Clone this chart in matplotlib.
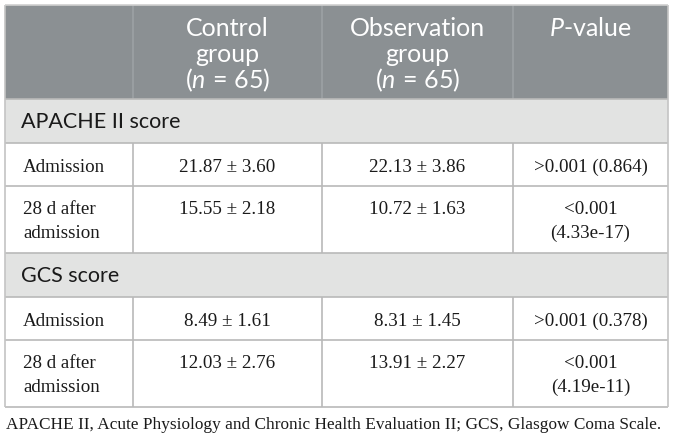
import matplotlib
matplotlib.use("Agg")
import matplotlib.pyplot as plt
from matplotlib.patches import Rectangle

plt.rcParams['mathtext.fontset'] = 'custom'
plt.rcParams['mathtext.it'] = 'Lato:italic'
plt.rcParams['mathtext.rm'] = 'Lato'

# ---- data ----
header_cols = [
    [],
    ["Control", "group", r"$(\mathit{n}\,=\,65)$"],
    ["Observation", "group", r"$(\mathit{n}\,=\,65)$"],
    [r"$\mathit{P}$-value"],
]
sections = ["APACHE II score", "GCS score"]
row_labels = [["Admission"], ["28 d after", "admission"]]
control_vals = [["21.87 ± 3.60", "15.55 ± 2.18"], ["8.49 ± 1.61", "12.03 ± 2.76"]]
observation_vals = [["22.13 ± 3.86", "10.72 ± 1.63"], ["8.31 ± 1.45", "13.91 ± 2.27"]]
p_values = [[[">0.001 (0.864)"], ["<0.001", "(4.33e-17)"]],
            [[">0.001 (0.378)"], ["<0.001", "(4.19e-11)"]]]
caption = "APACHE II, Acute Physiology and Chronic Health Evaluation II; GCS, Glasgow Coma Scale."

# ---- layout (pixels) ----
W, H = 674, 440
col_x = [5, 133, 322, 513, 668]
top, header_h = 5, 94
section_h = 44
row_h = [43, 67]

HEADER_BG = "#8b9093"
SECTION_BG = "#e2e3e2"
GRID = "#b9b9b9"
SANS = "Lato"
SERIF = "Liberation Serif"

fig = plt.figure(figsize=(W / 100, H / 100), dpi=100)
ax = fig.add_axes([0, 0, 1, 1])
ax.set_xlim(0, W)
ax.set_ylim(H, 0)
ax.axis("off")

def hline(y, color=GRID, lw=1.2):
    ax.plot([col_x[0], col_x[-1]], [y, y], color=color, lw=lw, solid_capstyle="butt")

def vline(x, y0, y1, color=GRID, lw=1.2):
    ax.plot([x, x], [y0, y1], color=color, lw=lw, solid_capstyle="butt")

# header
ax.add_patch(Rectangle((col_x[0], top), col_x[-1] - col_x[0], header_h,
                       facecolor=HEADER_BG, edgecolor="none"))
for c in range(1, 4):
    vline(col_x[c], top, top + header_h, color="#9da2a4")
for c, lines in enumerate(header_cols):
    cx = (col_x[c] + col_x[c + 1]) / 2
    for i, t in enumerate(lines):
        ax.text(cx, top + 24 + i * 25.5, t, ha="center", va="center",
                family=SANS, fontsize=18, color="white")

y = top + header_h
table_top = top
for s, sec in enumerate(sections):
    ax.add_patch(Rectangle((col_x[0], y), col_x[-1] - col_x[0], section_h,
                           facecolor=SECTION_BG, edgecolor="none"))
    hline(y)
    ax.text(col_x[0] + 16, y + section_h / 2 + 0.5, sec, ha="left", va="center",
            family=SANS, fontsize=15.5, color="#1a1a1a")
    y += section_h
    for r in range(2):
        hline(y)
        h = row_h[r]
        for c in range(1, 4):
            vline(col_x[c], y, y + h)
        cells = [row_labels[r], [control_vals[s][r]], [observation_vals[s][r]], p_values[s][r]]
        for c, lines in enumerate(cells):
            if c == 0:
                x, ha = col_x[0] + 18, "left"
            else:
                x, ha = (col_x[c] + col_x[c + 1]) / 2, "center"
            for i, t in enumerate(lines):
                ax.text(x, y + 24 + i * 23, t, ha=ha, va="center",
                        family=SERIF, fontsize=13.7, color="#1a1a1a")
        y += h
hline(y)
# outer border
vline(col_x[0], table_top, y, color="#c4c4c4")
vline(col_x[-1], table_top, y, color="#c4c4c4")
hline(table_top, color="#d0d0d0", lw=1.2)

ax.text(col_x[0] + 1, 425, caption, ha="left", va="center",
        family=SERIF, fontsize=12.45, color="#1a1a1a")

fig.savefig("out.png", dpi=100)
